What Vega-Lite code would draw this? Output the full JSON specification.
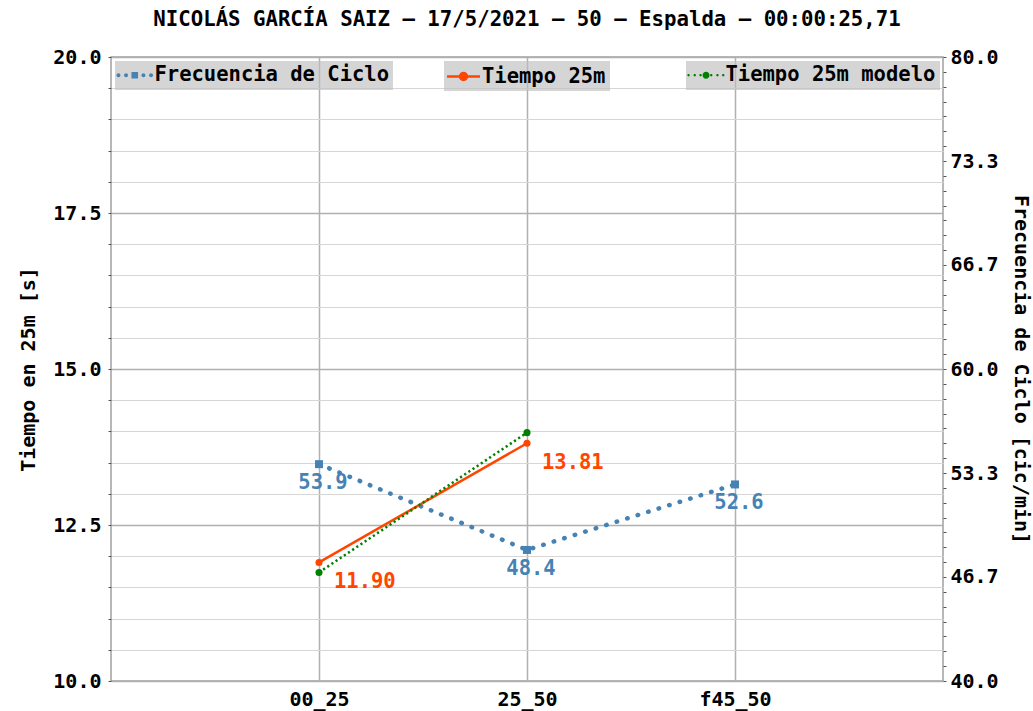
{
  "$schema": "https://vega.github.io/schema/vega-lite/v6.json",
  "width": 832,
  "height": 624,
  "autosize": "none",
  "padding": {"left": 111, "top": 57, "right": 90, "bottom": 30},
  "background": "white",
  "title": {
    "text": "NICOLÁS GARCÍA SAIZ – 17/5/2021 – 50 – Espalda – 00:00:25,71",
    "font": "DejaVu Sans Mono",
    "fontSize": 20.7,
    "fontWeight": "bold",
    "color": "black",
    "anchor": "middle",
    "offset": 16
  },
  "config": {
    "view": {"stroke": "#a0a0a0", "strokeWidth": 1.5},
    "axis": {
      "labelFont": "DejaVu Sans Mono",
      "labelFontSize": 20,
      "labelFontWeight": "bold",
      "labelColor": "black",
      "titleFont": "DejaVu Sans Mono",
      "titleFontSize": 20,
      "titleFontWeight": "bold",
      "titleColor": "black",
      "domain": false,
      "labelOverlap": false,
      "labelFlush": false,
      "tickColor": "#555555"
    },
    "legend": {
      "labelFont": "DejaVu Sans Mono",
      "labelFontSize": 20.5,
      "labelFontWeight": "bold",
      "labelColor": "black",
      "labelLimit": 0,
      "fillColor": "rgba(190,190,190,0.65)",
      "padding": 4,
      "symbolSize": 400
    }
  },
  "data": {
    "values": [
      {"tramo": "00_25", "frecuencia": 53.9, "tiempo": 11.90, "modelo": 11.74},
      {"tramo": "25_50", "frecuencia": 48.4, "tiempo": 13.81, "modelo": 13.98},
      {"tramo": "f45_50", "frecuencia": 52.6, "tiempo": null, "modelo": null}
    ]
  },
  "encoding": {
    "x": {
      "field": "tramo",
      "type": "ordinal",
      "scale": {"type": "point", "padding": 1, "domain": ["00_25", "25_50", "f45_50"]},
      "axis": {
        "title": null,
        "labelAngle": 0,
        "ticks": false,
        "labelPadding": 8,
        "grid": true,
        "gridColor": "#b0b0b0",
        "gridWidth": 1.5
      }
    }
  },
  "layer": [
    {
      "encoding": {
        "y": {
          "field": "frecuencia",
          "type": "quantitative",
          "scale": {"domain": [40, 80], "nice": false, "zero": false},
          "axis": {
            "orient": "right",
            "grid": false,
            "values": [40, 40.95238, 41.90476, 42.85714, 43.80952, 44.7619, 45.71429, 46.66667, 47.61905, 48.57143, 49.52381, 50.47619, 51.42857, 52.38095, 53.33333, 54.28571, 55.2381, 56.19048, 57.14286, 58.09524, 59.04762, 60, 60.95238, 61.90476, 62.85714, 63.80952, 64.7619, 65.71429, 66.66667, 67.61905, 68.57143, 69.52381, 70.47619, 71.42857, 72.38095, 73.33333, 74.28571, 75.2381, 76.19048, 77.14286, 78.09524, 79.04762, 80],
            "labelExpr": "abs(datum.value*0.15 - round(datum.value*0.15)) < 0.001 ? format(datum.value, '.1f') : ''",
            "tickSize": 3,
            "labelPadding": 4,
            "title": "Frecuencia de Ciclo [cic/min]",
            "titlePadding": 12
          }
        }
      },
      "layer": [
        {
          "mark": {"type": "line", "color": "#4682b4", "strokeWidth": 4.5, "strokeCap": "round", "strokeDash": [0.5, 10.5]}
        },
        {
          "mark": {"type": "point", "shape": "square", "filled": true, "size": 64, "opacity": 1},
          "encoding": {
            "color": {
              "datum": "Frecuencia de Ciclo",
              "type": "nominal",
              "scale": {"range": ["#4682b4"]},
              "legend": {
                "title": null,
                "orient": "none",
                "legendX": 4,
                "legendY": 4,
                "symbolType": "M-0.88,0A0.2,0.2 0 1,1 -1.28,0A0.2,0.2 0 1,1 -0.88,0Z M-0.12,0A0.2,0.2 0 1,1 -0.52,0A0.2,0.2 0 1,1 -0.12,0Z M0.22,-0.33H0.88V0.33H0.22Z M1.62,0A0.2,0.2 0 1,1 1.22,0A0.2,0.2 0 1,1 1.62,0Z M2.38,0A0.2,0.2 0 1,1 1.98,0A0.2,0.2 0 1,1 2.38,0Z",
                "symbolStrokeWidth": 0,
                "symbolOpacity": 1,
                "labelOffset": 15
              }
            }
          }
        },
        {
          "mark": {"type": "text", "color": "#4682b4", "dx": 4, "dy": 19, "font": "DejaVu Sans Mono", "fontSize": 20.5, "fontWeight": "bold"},
          "encoding": {"text": {"field": "frecuencia", "type": "quantitative", "format": ".1f"}}
        }
      ]
    },
    {
      "transform": [{"filter": "isValid(datum.tiempo)"}],
      "encoding": {
        "y": {
          "field": "tiempo",
          "type": "quantitative",
          "scale": {"domain": [10, 20], "nice": false, "zero": false},
          "axis": {
            "orient": "left",
            "values": [10, 10.5, 11, 11.5, 12, 12.5, 13, 13.5, 14, 14.5, 15, 15.5, 16, 16.5, 17, 17.5, 18, 18.5, 19, 19.5, 20],
            "labelExpr": "datum.value % 2.5 === 0 ? format(datum.value, '.1f') : ''",
            "grid": true,
            "gridColor": {"condition": {"test": "datum.value % 2.5 === 0", "value": "#b0b0b0"}, "value": "#d6d6d6"},
            "gridWidth": {"condition": {"test": "datum.value % 2.5 === 0", "value": 1.5}, "value": 1},
            "tickSize": 3,
            "labelPadding": 7,
            "title": "Tiempo en 25m [s]",
            "titlePadding": 14
          }
        }
      },
      "layer": [
        {
          "mark": {"type": "line", "color": "#ff4500", "strokeWidth": 2.5}
        },
        {
          "mark": {"type": "point", "shape": "circle", "filled": true, "size": 50, "opacity": 1},
          "encoding": {
            "color": {
              "datum": "Tiempo 25m",
              "type": "nominal",
              "scale": {"range": ["#ff4500"]},
              "legend": {
                "title": null,
                "orient": "none",
                "legendX": 333,
                "legendY": 4,
                "symbolType": "M-1.25,0H2.05M0.75,0A0.35,0.35 0 1,1 0.05,0A0.35,0.35 0 1,1 0.75,0Z",
                "symbolStrokeColor": "#ff4500",
                "symbolStrokeWidth": 2.5,
                "symbolOpacity": 1,
                "labelOffset": 11
              }
            }
          }
        },
        {
          "mark": {"type": "text", "color": "#ff4500", "align": "left", "dx": 15, "dy": 20, "font": "DejaVu Sans Mono", "fontSize": 20.5, "fontWeight": "bold"},
          "encoding": {"text": {"field": "tiempo", "type": "quantitative", "format": ".2f"}}
        }
      ]
    },
    {
      "transform": [{"filter": "isValid(datum.modelo)"}],
      "encoding": {
        "y": {
          "field": "modelo",
          "type": "quantitative",
          "scale": {"domain": [10, 20], "nice": false, "zero": false},
          "axis": null
        }
      },
      "layer": [
        {
          "mark": {"type": "line", "color": "#008000", "strokeWidth": 2.5, "strokeDash": [2.2, 2.8]}
        },
        {
          "mark": {"type": "point", "shape": "circle", "filled": true, "size": 50, "opacity": 1},
          "encoding": {
            "color": {
              "datum": "Tiempo 25m modelo",
              "type": "nominal",
              "scale": {"range": ["#008000"]},
              "legend": {
                "title": null,
                "orient": "none",
                "legendX": 575,
                "legendY": 4,
                "symbolType": "M-1.05,0A0.12,0.12 0 1,1 -1.29,0A0.12,0.12 0 1,1 -1.05,0Z M-0.43,0A0.12,0.12 0 1,1 -0.67,0A0.12,0.12 0 1,1 -0.43,0Z M0.15,0A0.12,0.12 0 1,1 -0.09,0A0.12,0.12 0 1,1 0.15,0Z M0.93,0A0.35,0.35 0 1,1 0.23,0A0.35,0.35 0 1,1 0.93,0Z M1.22,0A0.12,0.12 0 1,1 0.98,0A0.12,0.12 0 1,1 1.22,0Z M1.84,0A0.12,0.12 0 1,1 1.6,0A0.12,0.12 0 1,1 1.84,0Z M2.42,0A0.12,0.12 0 1,1 2.18,0A0.12,0.12 0 1,1 2.42,0Z",
                "symbolStrokeWidth": 0,
                "symbolOpacity": 1,
                "labelOffset": 15
              }
            }
          }
        }
      ]
    }
  ],
  "resolve": {
    "scale": {"y": "independent", "color": "independent"},
    "axis": {"y": "independent"},
    "legend": {"color": "independent"}
  }
}
